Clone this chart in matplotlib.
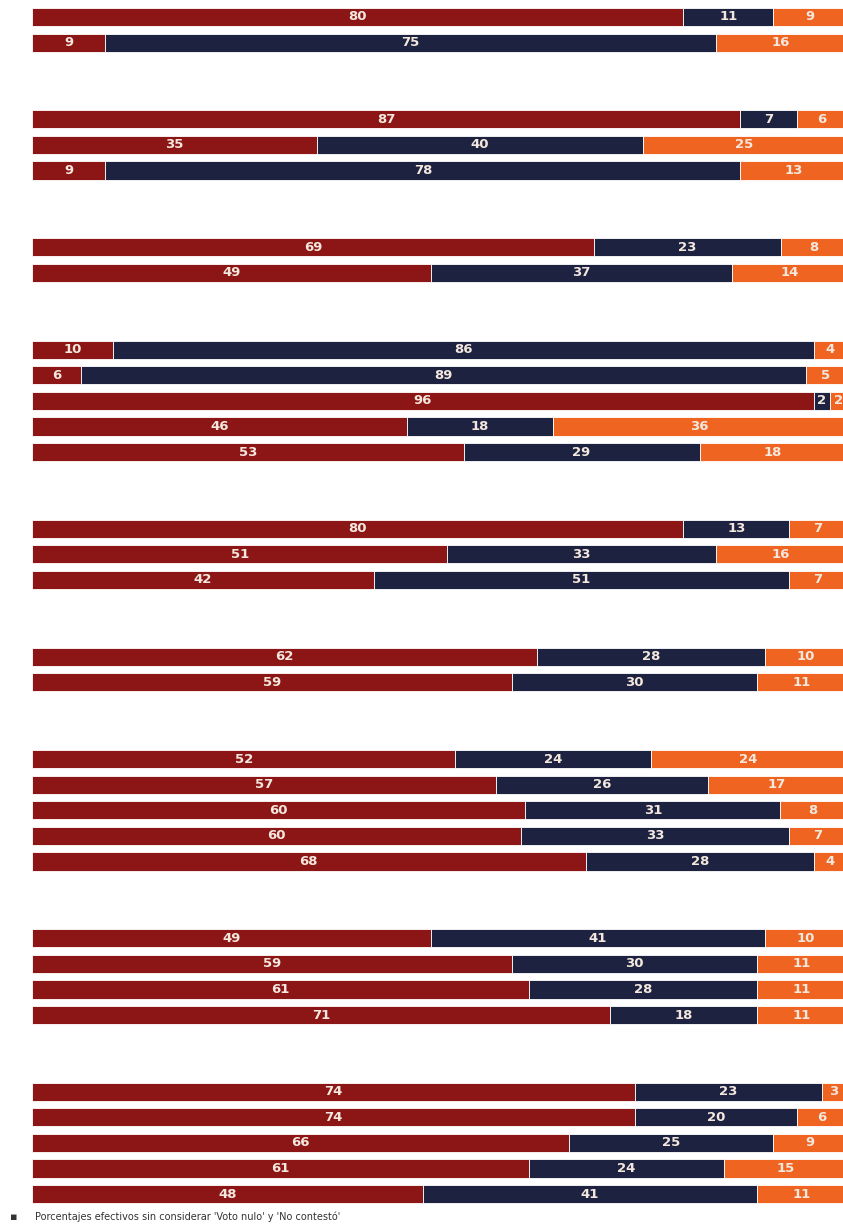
import numpy as np
from matplotlib import pyplot as plt

# each group: rows of [red, navy, orange] percentages
groups = [
    [[80, 11, 9], [9, 75, 16]],
    [[87, 7, 6], [35, 40, 25], [9, 78, 13]],
    [[69, 23, 8], [49, 37, 14]],
    [[10, 86, 4], [6, 89, 5], [96, 2, 2], [46, 18, 36], [53, 29, 18]],
    [[80, 13, 7], [51, 33, 16], [42, 51, 7]],
    [[62, 28, 10], [59, 30, 11]],
    [[52, 24, 24], [57, 26, 17], [60, 31, 8], [60, 33, 7], [68, 28, 4]],
    [[49, 41, 10], [59, 30, 11], [61, 28, 11], [71, 18, 11]],
    [[74, 23, 3], [74, 20, 6], [66, 25, 9], [61, 24, 15], [48, 41, 11]],
]
colors = ['#8c1515', '#1c2240', '#ee6420']
note = "Porcentajes efectivos sin considerar 'Voto nulo' y 'No contestó'"

# row slots, two empty slots between groups
rows = []
slot = 0
for g in groups:
    for r in g:
        rows.append((slot, r))
        slot += 1
    slot += 2

fig = plt.figure(figsize=(8.43, 12.26), dpi=100)
fig.patch.set_facecolor('white')
ax = fig.add_axes([32 / 843, 0, 1 - 32 / 843, 1])
ax.set_xlim(0, 99.6)
pitch = 25.59
ax.set_ylim((1226 - 17) / pitch, -17 / pitch)
ax.axis('off')

for y, vals in rows:
    # rounded values don't always add to 100, bars are drawn full width
    widths = np.array(vals) * 100.0 / sum(vals)
    left = 0
    for v, w, c in zip(vals, widths, colors):
        ax.barh(y, w, left=left, height=0.71, color=c, edgecolor='white', linewidth=0.6)
        ax.text(left + w / 2, y, str(v), ha='center', va='center',
                color='#f4e8de', fontsize=9.5, fontweight='bold')
        left += w

fig.text(10 / 843, 1 - 1217 / 1226, '\u25aa', fontsize=8, color='#333333', va='center')
fig.text(35 / 843, 1 - 1217 / 1226, note, fontsize=7, color='#333333', va='center')

fig.savefig('out.png', dpi=100)
